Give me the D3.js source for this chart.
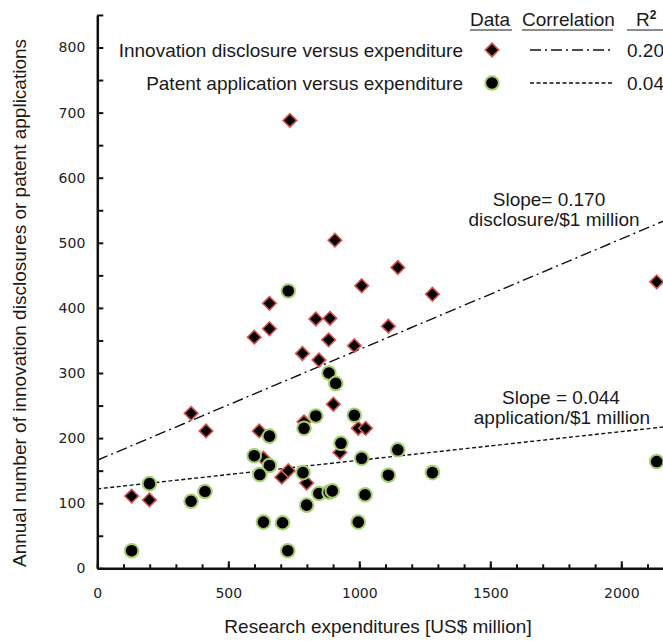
<!DOCTYPE html>
<html>
<head>
<meta charset="utf-8">
<script src="https://cdn.jsdelivr.net/npm/d3@7"></script>
<style>
  body { margin: 0; background: #fff; }
  text { font-family: "Liberation Sans", Arial, sans-serif; fill: #1a1a1a; }
  .tick text { font-family: "DejaVu Sans", Verdana, sans-serif; font-size: 14px; fill: #222; }
</style>
</head>
<body>
<svg id="chart" width="663" height="641"></svg>
<script>
// Data
const discX = [131, 199, 358, 415, 599, 657, 657, 618, 634, 704, 729, 735, 783, 846, 834,
               888, 883, 789, 799, 901, 907, 1147, 1009, 1279, 1111, 981, 996, 1024, 926, 2135];
const discY = [111, 105, 238, 211, 355, 407, 368, 211, 169, 140, 150, 688, 330, 320, 383,
               384, 351, 225, 131, 252, 504, 462, 434, 421, 372, 342, 215, 215, 178, 440];

const patX = [131, 199, 358, 411, 729, 599, 657, 657, 620, 634, 707, 727, 785, 789, 834,
              799, 846, 885, 897, 884, 910, 981, 930, 1009, 1147, 1111, 1279, 1022, 996, 2135];
const patY = [27, 130, 103, 118, 426, 173, 203, 158, 144, 71, 70, 27, 147, 215, 234,
              97, 115, 117, 119, 300, 284, 235, 192, 169, 182, 143, 147, 113, 71, 164];

// trend lines: slope, intercept
const discFit = [0.170, 166];
const patFit = [0.044, 122];
const rSquared = ['0.20', '0.04'];

const xTicks = [0, 500, 1000, 1500, 2000];
const yTicks = [0, 100, 200, 300, 400, 500, 600, 700, 800];

var svg = d3.select('#chart');
var fs = '19px';

var x = d3.scaleLinear().domain([0, 2500]).range([97.3, 97.3 + 0.262 * 2500]);
var y = d3.scaleLinear().domain([0, 850]).range([568.3, 568.3 - 0.651 * 850]);

// x axis - minor then major
svg.append('g')
  .attr('transform', 'translate(0,' + y(0) + ')')
  .call(d3.axisBottom(x).tickValues(d3.range(0, 2501, 100)).tickSize(-4).tickSizeOuter(0).tickFormat(''))
  .call(g => g.select('.domain').attr('stroke', '#111').attr('stroke-width', 2.5));

svg.append('g')
  .attr('transform', 'translate(0,' + y(0) + ')')
  .call(d3.axisBottom(x).tickValues(xTicks).tickSize(-7).tickPadding(20).tickFormat(d3.format('d')))
  .call(g => g.select('.domain').remove());

// y axis
svg.append('g')
  .attr('transform', 'translate(' + x(0) + ',0)')
  .call(d3.axisLeft(y).tickValues(d3.range(0, 851, 50)).tickSize(-6).tickSizeOuter(0).tickFormat(''))
  .call(g => g.select('.domain').attr('stroke', '#111').attr('stroke-width', 2.5));

svg.append('g')
  .attr('transform', 'translate(' + x(0) + ',0)')
  .call(d3.axisLeft(y).tickValues(yTicks).tickSize(0).tickPadding(12))
  .call(g => g.select('.domain').remove());

svg.selectAll('.tick line').attr('stroke', '#111').attr('stroke-width', 2);

// axis titles
svg.append('text')
  .attr('x', 378).attr('y', 633)
  .attr('text-anchor', 'middle')
  .style('font-size', fs)
  .text('Research expenditures [US$ million]');

svg.append('text')
  .attr('transform', 'translate(26,303) rotate(-90)')
  .attr('text-anchor', 'middle')
  .style('font-size', fs)
  .text('Annual number of innovation disclosures or patent applications');

// trend lines
var xs = [0, 2500];
svg.append('line')
  .attr('x1', x(xs[0])).attr('y1', y(discFit[0] * xs[0] + discFit[1]))
  .attr('x2', x(xs[1])).attr('y2', y(discFit[0] * xs[1] + discFit[1]))
  .attr('stroke', '#111').attr('stroke-width', 1.4)
  .attr('stroke-dasharray', '11,4,2,4');

svg.append('line')
  .attr('x1', x(xs[0])).attr('y1', y(patFit[0] * xs[0] + patFit[1]))
  .attr('x2', x(xs[1])).attr('y2', y(patFit[0] * xs[1] + patFit[1]))
  .attr('stroke', '#111').attr('stroke-width', 1.4)
  .attr('stroke-dasharray', '4,2.5');

// points
var diamond = d3.symbol().type(d3.symbolSquare).size(92);
var disc = discX.map((d, i) => ({ x: d, y: discY[i] }));
var pat = patX.map((d, i) => ({ x: d, y: patY[i] }));

svg.append('g').selectAll('path')
  .data(disc)
  .join('path')
  .attr('d', diamond)
  .attr('transform', d => 'translate(' + x(d.x) + ',' + y(d.y) + ') rotate(45)')
  .attr('fill', '#000')
  .attr('stroke', '#d9534f')
  .attr('stroke-width', 1.6);

svg.append('g').selectAll('circle')
  .data(pat)
  .join('circle')
  .attr('cx', d => x(d.x))
  .attr('cy', d => y(d.y))
  .attr('r', 6.8)
  .attr('fill', '#000')
  .attr('stroke', '#a5cf6e')
  .attr('stroke-width', 2);

// slope notes
function note(lines, cxs, cy) {
  lines.forEach(function(t, i) {
    svg.append('text')
      .attr('x', cxs[i]).attr('y', cy + i * 20)
      .attr('text-anchor', 'middle')
      .style('font-size', fs)
      .text(t);
  });
}
note(['Slope= ' + discFit[0].toFixed(3), 'disclosure/$1 million'], [549, 554], 206);
note(['Slope = ' + patFit[0].toFixed(3), 'application/$1 million'], [561, 562], 404);

// legend
var hdr = [['Data', 470, 42], ['Correlation', 522, 91]];
hdr.forEach(function(h) {
  svg.append('text').attr('x', h[1]).attr('y', 26).style('font-size', fs).text(h[0]);
  svg.append('line').attr('x1', h[1]).attr('x2', h[1] + h[2]).attr('y1', 30).attr('y2', 30)
    .attr('stroke', '#1a1a1a').attr('stroke-width', 1.2);
});
var r2 = svg.append('text').attr('x', 636).attr('y', 26).style('font-size', fs);
r2.append('tspan').text('R');
r2.append('tspan').attr('dy', -7).style('font-size', '12px').style('font-weight', 'bold').text('2');
svg.append('line').attr('x1', 627).attr('x2', 663).attr('y1', 30).attr('y2', 30)
  .attr('stroke', '#1a1a1a').attr('stroke-width', 1.2);

var rows = [
  { label: 'Innovation disclosure versus expenditure', cy: 50, kind: 'd', dash: '11,4,2,4' },
  { label: 'Patent application versus expenditure', cy: 83, kind: 'c', dash: '4,2.5' }
];
rows.forEach(function(r, i) {
  svg.append('text').attr('x', 463).attr('y', r.cy + 7).attr('text-anchor', 'end')
    .style('font-size', fs).text(r.label);
  if (r.kind == 'd') {
    svg.append('path').attr('d', diamond)
      .attr('transform', 'translate(492,' + r.cy + ') rotate(45)')
      .attr('fill', '#000').attr('stroke', '#d9534f').attr('stroke-width', 1.6);
  } else {
    svg.append('circle').attr('cx', 492).attr('cy', r.cy).attr('r', 6.8)
      .attr('fill', '#000').attr('stroke', '#a5cf6e').attr('stroke-width', 2);
  }
  svg.append('line').attr('x1', 530).attr('x2', 613).attr('y1', r.cy).attr('y2', r.cy)
    .attr('stroke', '#111').attr('stroke-width', 1.4).attr('stroke-dasharray', r.dash);
  svg.append('text').attr('x', 627).attr('y', r.cy + 7).style('font-size', fs).text(rSquared[i]);
});
</script>
</body>
</html>
